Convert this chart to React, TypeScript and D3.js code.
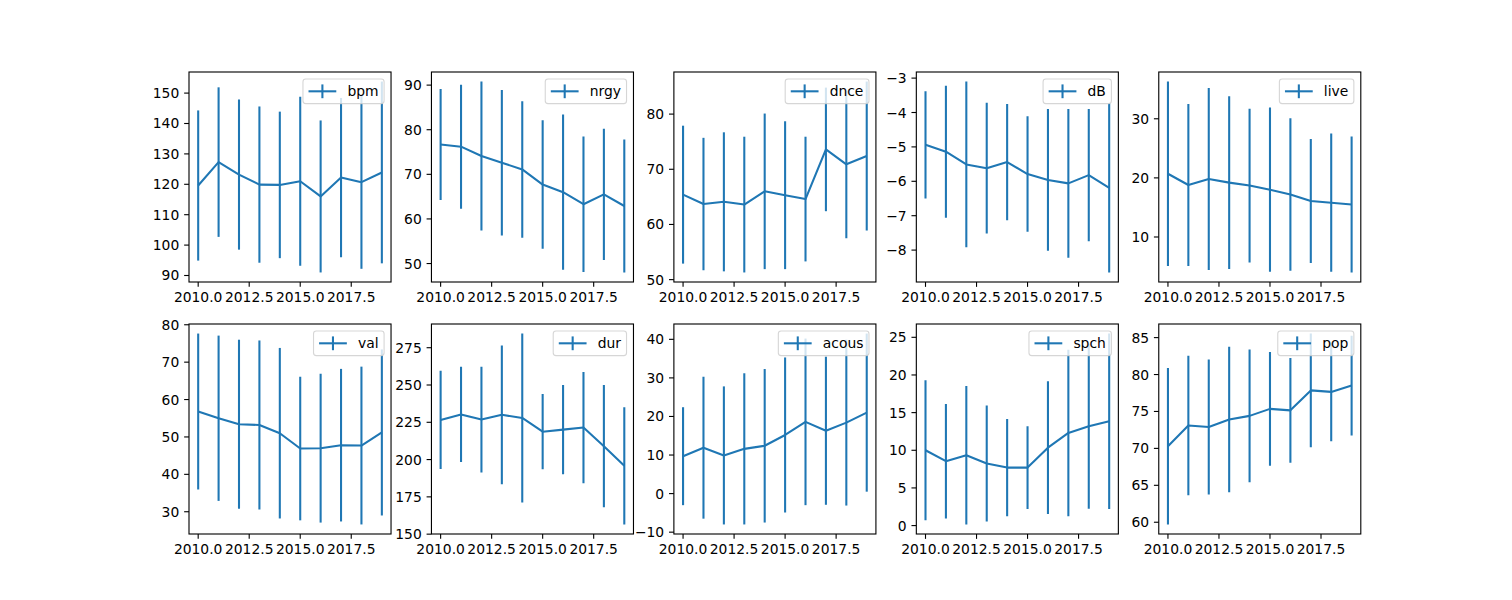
import React from "react";
import * as d3 from "d3";

const years = [2010, 2011, 2012, 2013, 2014, 2015, 2016, 2017, 2018, 2019];
const xTicks = [2010, 2012.5, 2015, 2017.5];

const bpmMean = [119.6, 127.3, 123.2, 119.9, 119.8, 121.0, 116.0, 122.2, 120.7, 123.9];
const bpmStd = [24.7, 24.6, 24.7, 25.7, 24.1, 27.8, 25.0, 26.2, 28.5, 29.9];
const bpmTicks = [90, 100, 110, 120, 130, 140, 150];

const nrgyMean = [76.7, 76.2, 74.1, 72.6, 71.1, 67.7, 66.0, 63.3, 65.5, 62.9];
const nrgyStd = [12.45, 13.9, 16.7, 16.3, 15.3, 14.4, 17.4, 15.2, 14.7, 14.9];
const nrgyTicks = [50, 60, 70, 80, 90];

const dnceMean = [65.4, 63.7, 64.1, 63.6, 66.0, 65.3, 64.6, 73.6, 70.9, 72.4];
const dnceStd = [12.5, 12.0, 12.6, 12.3, 14.1, 13.4, 11.3, 11.2, 13.4, 13.5];
const dnceTicks = [50, 60, 70, 80];

const dBMean = [-4.94, -5.14, -5.51, -5.62, -5.44, -5.79, -5.96, -6.06, -5.82, -6.19];
const dBStd = [1.56, 1.92, 2.41, 1.9, 1.69, 1.68, 2.06, 2.16, 1.92, 2.46];
const dBTicks = [-8, -7, -6, -5, -4, -3];

const liveMean = [20.7, 18.8, 19.8, 19.2, 18.7, 18.0, 17.2, 16.1, 15.8, 15.5];
const liveStd = [15.6, 13.7, 15.4, 14.6, 13.0, 13.9, 12.9, 10.5, 11.7, 11.5];
const liveTicks = [10, 20, 30];

const valMean = [56.8, 55.0, 53.4, 53.2, 51.0, 46.9, 47.0, 47.8, 47.7, 51.2];
const valStd = [20.85, 22.1, 22.6, 22.6, 22.8, 19.2, 19.9, 20.4, 21.1, 22.2];
const valTicks = [30, 40, 50, 60, 70, 80];

const durMean = [226.6, 230.3, 226.8, 230.0, 227.9, 218.7, 220.1, 221.5, 209.0, 195.8];
const durStd = [32.9, 32.0, 35.4, 46.5, 56.6, 25.2, 29.9, 37.3, 41.0, 39.3];
const durTicks = [150, 175, 200, 225, 250, 275];

const acousMean = [9.7, 11.9, 9.9, 11.6, 12.4, 15.2, 18.6, 16.3, 18.4, 21.0];
const acousStd = [12.7, 18.4, 17.9, 19.6, 19.9, 20.1, 21.6, 19.2, 21.5, 20.5];
const acousTicks = [-10, 0, 10, 20, 30, 40];

const spchMean = [10.0, 8.55, 9.35, 8.25, 7.7, 7.7, 10.35, 12.3, 13.2, 13.85];
const spchStd = [9.3, 7.6, 9.2, 7.7, 6.45, 5.5, 8.8, 11.05, 10.95, 11.65];
const spchTicks = [0, 5, 10, 15, 20, 25];

const popMean = [70.3, 73.1, 72.9, 73.9, 74.4, 75.35, 75.15, 77.85, 77.65, 78.5];
const popStd = [10.6, 9.45, 9.15, 9.85, 9.0, 7.7, 7.1, 7.7, 6.7, 6.75];
const popTicks = [60, 65, 70, 75, 80, 85];

const panels = [
  { name: "bpm", mean: bpmMean, std: bpmStd, ticks: bpmTicks },
  { name: "nrgy", mean: nrgyMean, std: nrgyStd, ticks: nrgyTicks },
  { name: "dnce", mean: dnceMean, std: dnceStd, ticks: dnceTicks },
  { name: "dB", mean: dBMean, std: dBStd, ticks: dBTicks },
  { name: "live", mean: liveMean, std: liveStd, ticks: liveTicks },
  { name: "val", mean: valMean, std: valStd, ticks: valTicks },
  { name: "dur", mean: durMean, std: durStd, ticks: durTicks },
  { name: "acous", mean: acousMean, std: acousStd, ticks: acousTicks },
  { name: "spch", mean: spchMean, std: spchStd, ticks: spchTicks },
  { name: "pop", mean: popMean, std: popStd, ticks: popTicks },
];

const W = 1512;
const H = 600;
const FS = 13.89;
const COLOR = "#1f77b4";
const FONT = "DejaVu Sans, sans-serif";

const axLeft0 = 0.125 * W;
const axW = (0.9 * W - axLeft0) / 5.8;
const axTop0 = 0.12 * H;
const axH = (0.88 * H - 0.11 * H) / 2.2;

function measure(text: string): number {
  if (typeof document === "undefined") return text.length * 8;
  const c = document.createElement("canvas");
  const ctx = c.getContext("2d");
  if (!ctx) return text.length * 8;
  ctx.font = `${FS}px DejaVu Sans`;
  return ctx.measureText(text).width;
}

function fmtY(v: number): string {
  const s = String(v);
  return v < 0 ? "\u2212" + s.slice(1) : s;
}

function Panel({ p, i }: { p: any; i: number }) {
  const col = i % 5;
  const row = Math.floor(i / 5);
  const x0 = axLeft0 + col * axW * 1.2;
  const y0 = axTop0 + row * axH * 1.2;
  const x = d3.scaleLinear().domain([2009.55, 2019.45]).range([x0, x0 + axW]);
  const lo = d3.min(p.mean.map((m: number, k: number) => m - p.std[k])) as number;
  const hi = d3.max(p.mean.map((m: number, k: number) => m + p.std[k])) as number;
  const pad = (hi - lo) * 0.05;
  const y = d3.scaleLinear().domain([lo - pad, hi + pad]).range([y0 + axH, y0]);
  const line = d3
    .line<number>()
    .x((_, k) => x(years[k]))
    .y((d) => y(d));
  const tw = measure(p.name);
  const bp = 0.4 * FS;
  const legW = bp * 2 + 2 * FS + 0.8 * FS + tw;
  const legH = bp * 2 + FS * 0.98;
  const legR = x0 + axW - 0.5 * FS;
  const legT = y0 + 0.5 * FS;
  const legL = legR - legW;
  const cy = legT + legH / 2;
  const clipId = `clip${i}`;
  return (
    <g>
      <defs>
        <clipPath id={clipId}>
          <rect x={x0} y={y0} width={axW} height={axH} />
        </clipPath>
      </defs>
      <g clipPath={`url(#${clipId})`}>
        {years.map((yr, k) => (
          <line
            key={yr}
            x1={x(yr)}
            x2={x(yr)}
            y1={y(p.mean[k] - p.std[k])}
            y2={y(p.mean[k] + p.std[k])}
            stroke={COLOR}
            strokeWidth={2.08}
          />
        ))}
        <path d={line(p.mean) || ""} fill="none" stroke={COLOR} strokeWidth={2.08} strokeLinejoin="round" />
      </g>
      <rect x={x0} y={y0} width={axW} height={axH} fill="none" stroke="#000" strokeWidth={1.11} />
      {p.ticks.map((t: number) => (
        <g key={t}>
          <line x1={x0} x2={x0 - 4.86} y1={y(t)} y2={y(t)} stroke="#000" strokeWidth={1.11} />
          <text x={x0 - 9.72} y={y(t) + 5} textAnchor="end" fontSize={FS} fontFamily={FONT} fill="#000">
            {fmtY(t)}
          </text>
        </g>
      ))}
      {xTicks.map((t) => (
        <g key={t}>
          <line x1={x(t)} x2={x(t)} y1={y0 + axH} y2={y0 + axH + 4.86} stroke="#000" strokeWidth={1.11} />
          <text x={x(t)} y={y0 + axH + 19.9} textAnchor="middle" fontSize={FS} fontFamily={FONT} fill="#000">
            {t.toFixed(1)}
          </text>
        </g>
      ))}
      <rect
        x={legL}
        y={legT}
        width={legW}
        height={legH}
        rx={2.8}
        fill="#fff"
        fillOpacity={0.8}
        stroke="#cccccc"
        strokeOpacity={0.8}
        strokeWidth={1.11}
      />
      <line x1={legL + bp} x2={legL + bp + 2 * FS} y1={cy} y2={cy} stroke={COLOR} strokeWidth={2.08} />
      <line x1={legL + bp + FS} x2={legL + bp + FS} y1={cy - 6.9} y2={cy + 6.9} stroke={COLOR} strokeWidth={2.08} />
      <text x={legL + bp + 2.8 * FS} y={cy + 5} fontSize={FS} fontFamily={FONT} fill="#000">
        {p.name}
      </text>
    </g>
  );
}

export default function App() {
  return (
    <svg width={W} height={H} style={{ position: "absolute", left: 0, top: 0, background: "#fff" }}>
      <rect x={0} y={0} width={W} height={H} fill="#fff" />
      {panels.map((p, i) => (
        <Panel key={p.name} p={p} i={i} />
      ))}
    </svg>
  );
}
